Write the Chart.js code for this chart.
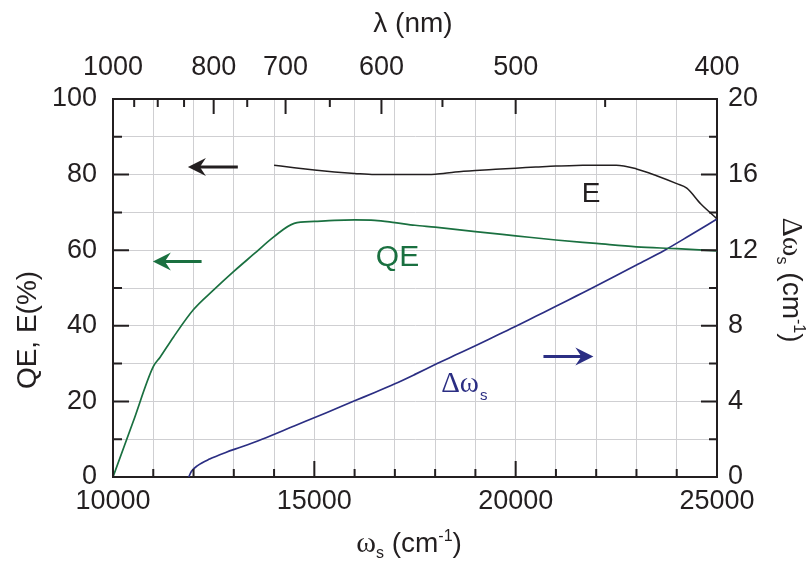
<!DOCTYPE html>
<html>
<head>
<meta charset="utf-8">
<script src="https://cdn.jsdelivr.net/npm/chart.js@4.4.1/dist/chart.umd.min.js"></script>
<style>
  html, body { margin: 0; padding: 0; background: #fff; }
  #wrap { width: 811px; height: 570px; }
</style>
</head>
<body>
<div id="wrap"><canvas id="qeChart" width="811" height="570"></canvas></div>
<script>
// values
// QE (%) vs omega_s (cm-1), left axis
const qeX = [10000, 10500, 11000, 11170, 11500, 12000, 12500, 13000, 13500, 14000, 14500, 15000, 15500, 16000, 16500, 17000, 17500, 18000, 19000, 20000, 21000, 22000, 23000, 24000, 25000];
const qeY = [0, 14.6, 29.2, 31.7, 37.0, 44.3, 49.5, 54.4, 59.0, 63.6, 67.1, 67.6, 67.9, 68.0, 67.9, 67.3, 66.6, 66.1, 64.9, 63.8, 62.7, 61.8, 60.9, 60.4, 59.8];

// E (%) vs omega_s, left axis
const effX = [14000, 14500, 15000, 15500, 16000, 16500, 17000, 17500, 18000, 18500, 19000, 19500, 20000, 20500, 21000, 21500, 22000, 22500, 23000, 23500, 24000, 24250, 24600, 25000];
const effY = [82.5, 81.8, 81.2, 80.7, 80.3, 80.0, 80.0, 80.0, 80.1, 80.7, 81.1, 81.4, 81.7, 82.0, 82.3, 82.4, 82.5, 82.5, 81.5, 79.7, 77.6, 76.4, 72.2, 68.3];

// delta omega_s (cm-1) vs omega_s, right axis
const dwX = [11880, 11950, 12100, 12400, 12800, 13200, 13700, 14500, 15300, 16000, 16500, 17000, 17500, 18050, 18500, 19000, 19500, 20030, 20500, 21000, 21500, 21900, 22500, 23000, 23700, 24300, 25000];
const dwY = [0, 0.3, 0.6, 0.95, 1.3, 1.6, 2.0, 2.7, 3.4, 4.03, 4.47, 4.93, 5.43, 6.0, 6.45, 6.95, 7.46, 8.0, 8.5, 9.03, 9.57, 10.0, 10.66, 11.22, 12.0, 12.75, 13.65];

// top axis: wavelength in nm
const lambdaLabels = [1000, 800, 700, 600, 500, 400];
const lambdaMinor = [950, 900, 850, 750, 650, 550, 450];

const BLACK = '#231f20';
const GREEN = '#1a7040';
const NAVY = '#2b2e83';
const GRID = '#cfcfd2';

const SANS = '"Liberation Sans", Arial, sans-serif';
const SERIF = '"Liberation Serif", "Times New Roman", serif';

// arrows and in-plot labels (data units)
const arrowNotes = [
    { from: 13100, to: 11860, y: 82, axis: 'y', color: BLACK },
    { from: 12200, to: 10990, y: 57, axis: 'y', color: GREEN },
    { from: 20690, to: 21930, y: 6.38, axis: 'y2', color: NAVY }
];

const toPoints = (xs, ys) => xs.map((x, i) => ({ x: x, y: ys[i] }));

function drawRich(ctx, parts, x, y, rot) {
    ctx.save();
    ctx.translate(x, y);
    ctx.rotate(rot || 0);
    ctx.textBaseline = 'alphabetic';
    ctx.textAlign = 'left';
    let w = 0;
    parts.forEach(p => { ctx.font = p.font; w += ctx.measureText(p.text).width; });
    let cx = -w / 2;
    parts.forEach(p => {
        ctx.font = p.font;
        ctx.fillStyle = p.color || BLACK;
        ctx.fillText(p.text, cx, p.dy || 0);
        cx += ctx.measureText(p.text).width;
    });
    ctx.restore();
}

function drawArrow(ctx, x1, x2, y, color) {
    const dir = Math.sign(x2 - x1);
    ctx.save();
    ctx.strokeStyle = color;
    ctx.fillStyle = color;
    ctx.lineWidth = 3;
    ctx.beginPath();
    ctx.moveTo(x1, y);
    ctx.lineTo(x2 - dir * 10, y);
    ctx.stroke();
    ctx.beginPath();
    ctx.moveTo(x2, y);
    ctx.lineTo(x2 - dir * 18, y - 9);
    ctx.lineTo(x2 - dir * 12, y);
    ctx.lineTo(x2 - dir * 18, y + 9);
    ctx.closePath();
    ctx.fill();
    ctx.restore();
}

// inward tick marks on all four sides, plus titles and notes
const innerTicks = {
    id: 'innerTicks',
    afterDatasetsDraw(chart) {
        const { ctx, chartArea: a, scales } = chart;
        ctx.save();
        ctx.strokeStyle = BLACK;
        ctx.lineWidth = 2;
        ctx.beginPath();
        scales.x.ticks.forEach(t => {
            const px = scales.x.getPixelForValue(t.value);
            const len = t.value % 5000 === 0 ? 16 : 8;
            ctx.moveTo(px, a.bottom); ctx.lineTo(px, a.bottom - len);
        });
        scales.y.ticks.forEach(t => {
            const py = scales.y.getPixelForValue(t.value);
            const len = t.value % 20 === 0 ? 16 : 9;
            ctx.moveTo(a.left, py); ctx.lineTo(a.left + len, py);
        });
        scales.y2.ticks.forEach(t => {
            const py = scales.y2.getPixelForValue(t.value);
            const len = t.value % 4 === 0 ? 16 : 8;
            ctx.moveTo(a.right, py); ctx.lineTo(a.right - len, py);
        });
        lambdaLabels.concat(lambdaMinor).forEach(l => {
            const px = scales.xTop.getPixelForValue(1e7 / l);
            const len = lambdaLabels.includes(l) ? 15 : 8;
            ctx.moveTo(px, a.top); ctx.lineTo(px, a.top + len);
        });
        ctx.stroke();
        ctx.restore();
    },
    afterDraw(chart) {
        const { ctx, chartArea: a, scales } = chart;
        const big = '28px ' + SANS;
        const small = '16px ' + SANS;
        const cx = (a.left + a.right) / 2;

        // axis titles
        drawRich(ctx, [{ text: 'λ (nm)', font: big }], cx - 2, 32, 0);
        drawRich(ctx, [
            { text: 'ω', font: '30px ' + SERIF },
            { text: 's', font: small, dy: 6 },
            { text: ' (cm', font: big },
            { text: '-1', font: small, dy: -11 },
            { text: ')', font: big }
        ], cx - 6, 552, 0);
        drawRich(ctx, [{ text: 'QE, E(%)', font: big }], 36, 330, -Math.PI / 2);
        drawRich(ctx, [
            { text: 'Δω', font: '30px ' + SERIF },
            { text: 's', font: small, dy: 6 },
            { text: ' (cm', font: big },
            { text: '-1', font: small, dy: -11 },
            { text: ')', font: big }
        ], 783, 280, Math.PI / 2);

        // curve labels
        ctx.save();
        ctx.textAlign = 'center';
        ctx.textBaseline = 'alphabetic';
        ctx.fillStyle = BLACK;
        ctx.font = '28px ' + SANS;
        ctx.fillText('E', scales.x.getPixelForValue(21870), scales.y.getPixelForValue(72.8));
        ctx.fillStyle = GREEN;
        ctx.font = '30px ' + SANS;
        ctx.fillText('QE', scales.x.getPixelForValue(17065), scales.y.getPixelForValue(55.7));
        ctx.restore();
        ctx.save();
        ctx.textAlign = 'left';
        ctx.fillStyle = NAVY;
        const dx = scales.x.getPixelForValue(18150);
        const dy = scales.y2.getPixelForValue(4.5);
        ctx.font = '29px ' + SERIF;
        ctx.fillText('Δω', dx, dy);
        const w = ctx.measureText('Δω').width;
        ctx.font = '15px ' + SANS;
        ctx.fillText('s', dx + w + 1, dy + 8);
        ctx.restore();

        arrowNotes.forEach(n => {
            const s = scales[n.axis];
            drawArrow(ctx, scales.x.getPixelForValue(n.from), scales.x.getPixelForValue(n.to), s.getPixelForValue(n.y), n.color);
        });
    }
};

const tickFont = { family: SANS, size: 27 };

new Chart(document.getElementById('qeChart'), {
    type: 'line',
    data: {
        datasets: [
            { label: 'E', data: toPoints(effX, effY), borderColor: BLACK, borderWidth: 1.5, yAxisID: 'y' },
            { label: 'QE', data: toPoints(qeX, qeY), borderColor: GREEN, borderWidth: 1.7, yAxisID: 'y' },
            { label: 'Δωs', data: toPoints(dwX, dwY), borderColor: NAVY, borderWidth: 1.7, yAxisID: 'y2' }
        ]
    },
    options: {
        responsive: false,
        animation: false,
        layout: { padding: 0 },
        elements: {
            point: { radius: 0 },
            line: { cubicInterpolationMode: 'monotone', fill: false }
        },
        plugins: { legend: { display: false }, tooltip: { enabled: false } },
        scales: {
            x: {
                type: 'linear', position: 'bottom', min: 10000, max: 25000,
                afterFit: s => { s.height = 93; },
                grid: { color: GRID, lineWidth: 1, drawTicks: false },
                border: { color: BLACK, width: 2 },
                ticks: {
                    stepSize: 1000, autoSkip: false, maxRotation: 0, padding: 8,
                    color: BLACK, font: tickFont,
                    callback: v => (v % 5000 === 0 ? String(v) : '')
                }
            },
            xTop: {
                type: 'linear', position: 'top', min: 10000, max: 25000,
                afterFit: s => { s.height = 99; },
                afterBuildTicks: s => { s.ticks = lambdaLabels.map(l => ({ value: 1e7 / l })); },
                grid: { display: false, drawTicks: false },
                border: { color: BLACK, width: 2 },
                ticks: {
                    autoSkip: false, maxRotation: 0, padding: 15,
                    color: BLACK, font: tickFont,
                    callback: v => String(Math.round(1e7 / v))
                }
            },
            y: {
                position: 'left', min: 0, max: 100,
                afterFit: s => { s.width = 113; },
                grid: { color: GRID, lineWidth: 1, drawTicks: false },
                border: { color: BLACK, width: 2 },
                ticks: {
                    stepSize: 10, autoSkip: false, padding: 16,
                    color: BLACK, font: tickFont,
                    callback: v => (v % 20 === 0 ? String(v) : '')
                }
            },
            y2: {
                position: 'right', min: 0, max: 20,
                afterFit: s => { s.width = 94; },
                grid: { drawOnChartArea: false, drawTicks: false },
                border: { color: BLACK, width: 2 },
                ticks: {
                    stepSize: 2, autoSkip: false, padding: 11,
                    color: BLACK, font: tickFont,
                    callback: v => (v % 4 === 0 ? String(v) : '')
                }
            }
        }
    },
    plugins: [innerTicks]
});
</script>
</body>
</html>
